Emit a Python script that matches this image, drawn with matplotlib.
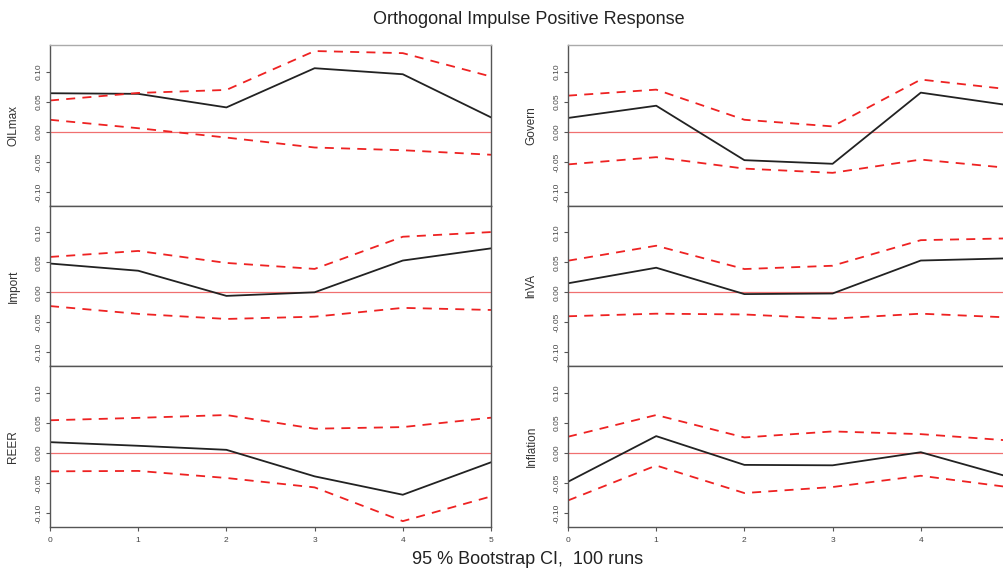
import numpy as np
import matplotlib
matplotlib.use('Agg')
import matplotlib.pyplot as plt

plt.rcParams['font.family'] = ['Liberation Sans', 'DejaVu Sans']

horizonte = [0, 1, 2, 3, 4, 5]

# izquierda: OILmax, Import, REER ; derecha: Govern, lnVA, Inflation
nombres = ['OILmax', 'Import', 'REER', 'Govern', 'lnVA', 'Inflation']

irf_oil = [0.064, 0.063, 0.0405, 0.1055, 0.0955, 0.024]
sup_oil = [0.052, 0.0645, 0.0695, 0.134, 0.1305, 0.0917]
inf_oil = [0.020, 0.006, -0.0095, -0.026, -0.0305, -0.038]

irf_imp = [0.048, 0.036, -0.006, 0.0, 0.053, 0.0733]
sup_imp = [0.059, 0.069, 0.049, 0.039, 0.0927, 0.1005]
inf_imp = [-0.023, -0.036, -0.0445, -0.0407, -0.026, -0.0295]

irf_reer = [0.0177, 0.0117, 0.005, -0.039, -0.0695, -0.0157]
sup_reer = [0.054, 0.058, 0.0627, 0.040, 0.0427, 0.0583]
inf_reer = [-0.0307, -0.030, -0.0417, -0.0573, -0.1133, -0.0723]

irf_gov = [0.023, 0.0433, -0.047, -0.053, 0.065, 0.044]
sup_gov = [0.060, 0.070, 0.020, 0.009, 0.0867, 0.0705]
inf_gov = [-0.054, -0.042, -0.061, -0.068, -0.046, -0.060]

irf_lnva = [0.015, 0.041, -0.003, -0.002, 0.053, 0.0567]
sup_lnva = [0.0527, 0.0777, 0.0388, 0.0443, 0.087, 0.090]
inf_lnva = [-0.040, -0.0357, -0.037, -0.044, -0.0357, -0.042]

irf_infl = [-0.048, 0.0277, -0.020, -0.0207, 0.001, -0.040]
sup_infl = [0.0267, 0.0627, 0.0255, 0.0355, 0.031, 0.0205]
inf_infl = [-0.079, -0.021, -0.0667, -0.0567, -0.038, -0.057]

datos = [
    (irf_oil, sup_oil, inf_oil),
    (irf_imp, sup_imp, inf_imp),
    (irf_reer, sup_reer, inf_reer),
    (irf_gov, sup_gov, inf_gov),
    (irf_lnva, sup_lnva, inf_lnva),
    (irf_infl, sup_infl, inf_infl),
]

yticks = [-0.10, -0.05, 0.0, 0.05, 0.10]
ytick_lab = ['-0.10', '-0.05', '0.00', '0.05', '0.10']

fig = plt.figure(figsize=(10.04, 5.70), dpi=100)

W, H = 1004.0, 570.0
izq = [50, 568]
ancho = 441
filas = [(45, 206), (206, 366), (366, 527)]

for k in range(6):
    col = k // 3
    fila = k % 3
    top, bot = filas[fila]
    ax = fig.add_axes([izq[col] / W, 1 - bot / H, ancho / W, (bot - top) / H])
    irf, sup, inf = datos[k]
    ax.axhline(0, color='#f07070', lw=0.9)
    ax.plot(horizonte, irf, color='#222222', lw=1.3)
    ax.plot(horizonte, sup, color='#ee2222', lw=1.3, dashes=(5, 4))
    ax.plot(horizonte, inf, color='#ee2222', lw=1.3, dashes=(5, 4))
    ax.set_xlim(0, 5)
    ax.set_ylim(-0.123, 0.144)
    ax.set_yticks(yticks)
    ax.set_yticklabels(ytick_lab, rotation=90, va='center', fontsize=6, color='#444444')
    ax.tick_params(axis='y', length=3, pad=2, color='#555555')
    ax.set_ylabel(nombres[k], fontsize=8.5, color='#333333', labelpad=12)
    for s in ax.spines.values():
        s.set_color('#555555')
        s.set_linewidth(1.0)
    if fila == 0:
        ax.spines['top'].set_color('#aaaaaa')
    if fila == 2:
        ax.set_xticks(horizonte)
        # la columna derecha queda cortada en x=5
        etiquetas = [str(h) for h in horizonte]
        if col == 1:
            etiquetas[-1] = ''
        ax.set_xticklabels(etiquetas, fontsize=6, color='#444444')
        ax.tick_params(axis='x', length=3, pad=4, color='#555555')
    else:
        ax.set_xticks([])

fig.text(529 / W, 1 - 20 / H, 'Orthogonal Impulse Positive Response', ha='center', va='center',
         fontsize=13, color='#222222')
fig.text(528 / W, 1 - 560 / H, '95 % Bootstrap CI,  100 runs', ha='center', va='center',
         fontsize=13, color='#222222')

fig.savefig('out.png', dpi=100)
